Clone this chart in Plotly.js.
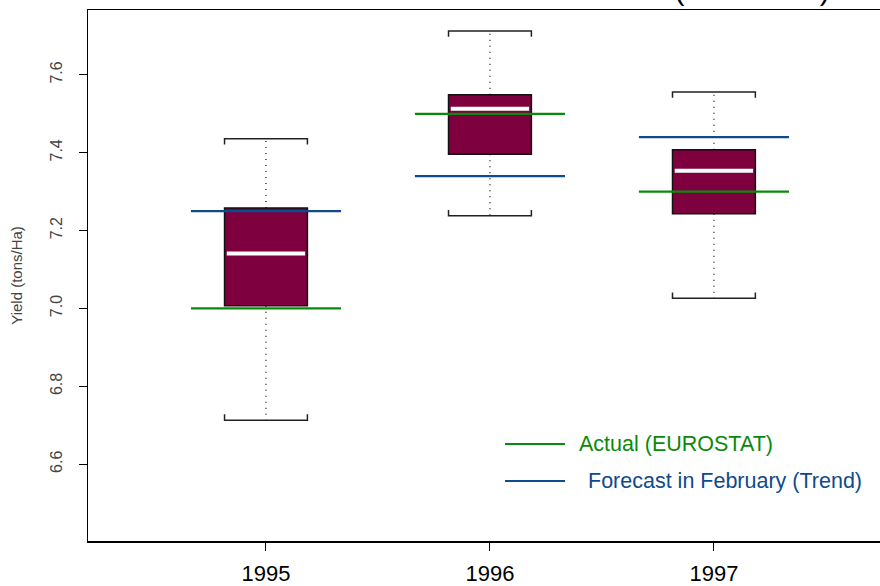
<!DOCTYPE html>
<html>
<head>
<meta charset="utf-8">
<script src="https://cdn.plot.ly/plotly-3.0.1.min.js"></script>
<style>
  html, body { margin: 0; padding: 0; overflow: hidden; background: #fff; width: 880px; height: 586px; }
  #chart { position: absolute; left: 0; top: -20px; }
</style>
</head>
<body>
<div id="chart"></div>
<script>
// ---- data ----
var years      = [1995, 1996, 1997];
var yearLabels = ["1995", "1996", "1997"];
var lowerWhisk = [6.713, 7.238, 7.026];
var q1         = [7.007, 7.396, 7.243];
var median     = [7.141, 7.513, 7.354];
var q3         = [7.258, 7.549, 7.408];
var upperWhisk = [7.436, 7.713, 7.556];
var actual     = [7.00, 7.50, 7.30];
var forecast   = [7.25, 7.34, 7.44];
var yTicks     = [6.6, 6.8, 7.0, 7.2, 7.4, 7.6];

// ---- styling constants ----
var BOX_W = 0.37, HALF = BOX_W / 2, REF_HALF = 0.335, CAP_D = 0.015;
var MAROON = "#7F003F", GREEN = "#0A8A0A", BLUE = "#0F4A8E";

var traces = [];

// box bodies
traces.push({
  type: "bar", x: years, base: q1,
  y: q3.map(function (v, i) { return v - q1[i]; }),
  width: BOX_W, marker: { color: MAROON, line: { color: "#111", width: 1.5 } },
  hoverinfo: "skip", showlegend: false
});

// dotted whiskers
var wx = [], wy = [];
years.forEach(function (x, i) {
  wx.push(x, x, null, x, x, null);
  wy.push(q3[i], upperWhisk[i], null, q1[i], lowerWhisk[i], null);
});
traces.push({ type: "scatter", mode: "lines", x: wx, y: wy,
  line: { color: "#000", width: 1.2, dash: "1px,5px" }, hoverinfo: "skip", showlegend: false });

// whisker caps (brackets)
var cx = [], cy = [];
years.forEach(function (x, i) {
  cx.push(x - HALF, x - HALF, x + HALF, x + HALF, null);
  cy.push(upperWhisk[i] - CAP_D, upperWhisk[i], upperWhisk[i], upperWhisk[i] - CAP_D, null);
  cx.push(x - HALF, x - HALF, x + HALF, x + HALF, null);
  cy.push(lowerWhisk[i] + CAP_D, lowerWhisk[i], lowerWhisk[i], lowerWhisk[i] + CAP_D, null);
});
traces.push({ type: "scatter", mode: "lines", x: cx, y: cy,
  line: { color: "#222", width: 1.5 }, hoverinfo: "skip", showlegend: false });

// medians
var mx = [], my = [];
years.forEach(function (x, i) {
  mx.push(x - HALF + 0.01, x + HALF - 0.01, null);
  my.push(median[i], median[i], null);
});
traces.push({ type: "scatter", mode: "lines", x: mx, y: my,
  line: { color: "#fff", width: 4 }, hoverinfo: "skip", showlegend: false });

// reference lines
function refLine(vals, color) {
  var lx = [], ly = [];
  years.forEach(function (x, i) {
    lx.push(x - REF_HALF, x + REF_HALF, null);
    ly.push(vals[i], vals[i], null);
  });
  return { type: "scatter", mode: "lines", x: lx, y: ly,
    line: { color: color, width: 2.2 }, hoverinfo: "skip", showlegend: false };
}
traces.push(refLine(actual, GREEN));
traces.push(refLine(forecast, BLUE));

var layout = {
  width: 900, height: 606,
  margin: { l: 88, r: 8, t: 30, b: 45 },
  paper_bgcolor: "#fff", plot_bgcolor: "#fff",
  font: { family: "Liberation Sans, Arial, sans-serif" },
  showlegend: false,
  title: {
    text: "DEMETER : models wo ~ 63 members (detrended)",
    font: { size: 30, color: "#000" },
    x: 0.5, xref: "paper", y: 0.9838, yref: "container", yanchor: "middle"
  },
  xaxis: {
    range: [1994.2054, 1997.795],
    tickmode: "array", tickvals: years, ticktext: yearLabels,
    ticks: "outside", ticklen: 8, tickcolor: "#000", tickwidth: 1,
    showline: true, linecolor: "#000", linewidth: 1.5, mirror: true,
    showgrid: false, zeroline: false,
    tickfont: { size: 22, color: "#000" }, ticklabelstandoff: 4
  },
  yaxis: {
    range: [6.4026, 7.7667],
    tickmode: "array", tickvals: yTicks,
    ticktext: yTicks.map(function (v) { return v.toFixed(1); }),
    tickangle: -90,
    ticks: "outside", ticklen: 8, tickcolor: "#000", tickwidth: 1,
    showline: true, linecolor: "#000", linewidth: 1.5, mirror: true,
    showgrid: false, zeroline: false,
    tickfont: { size: 16, color: "#444" }, ticklabelstandoff: 10,
    title: { text: "Yield (tons/Ha)", font: { size: 15, color: "#444" }, standoff: 22 }
  },
  shapes: [
    { type: "line", xref: "paper", yref: "paper", x0: 0.5187, x1: 0.5933, y0: 0.1827, y1: 0.1827,
      line: { color: GREEN, width: 2.2 } },
    { type: "line", xref: "paper", yref: "paper", x0: 0.5187, x1: 0.5933, y0: 0.113, y1: 0.113,
      line: { color: BLUE, width: 2.2 } }
  ],
  annotations: [
    { xref: "paper", yref: "paper", x: 0.6085, y: 0.1827, xanchor: "left", yanchor: "middle",
      text: "Actual (EUROSTAT)", showarrow: false, font: { size: 21.5, color: GREEN } },
    { xref: "paper", yref: "paper", x: 0.6196, y: 0.113, xanchor: "left", yanchor: "middle",
      text: "Forecast in February (Trend)", showarrow: false, font: { size: 21.5, color: BLUE } }
  ]
};

Plotly.newPlot("chart", traces, layout, { staticPlot: true, displayModeBar: false });
</script>
</body>
</html>
